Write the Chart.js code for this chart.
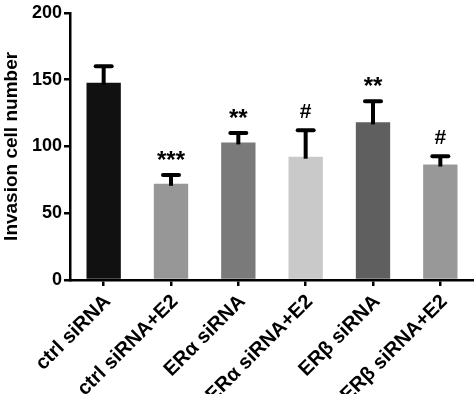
<!DOCTYPE html>
<html>
<head>
<meta charset="utf-8">
<script src="https://cdn.jsdelivr.net/npm/chart.js@4/dist/chart.umd.min.js"></script>
<style>
  html,body{margin:0;padding:0;background:#fff;}
  #wrap{width:474px;height:394px;}
</style>
</head>
<body>
<div id="wrap"><canvas id="myChart" width="474" height="394"></canvas></div>
<script>
// data
const categories=["ctrl siRNA","ctrl siRNA+E2","ERα siRNA","ERα siRNA+E2","ERβ siRNA","ERβ siRNA+E2"];
const means=[147.6,72,103,92.3,118,86.4];
const errors=[12.4,6.5,7,19.7,15.8,6.2];
const marks=["","***","**","#","**","#"];
const yTicks=[0,50,100,150,200];

const barColors=["#111111","#979797","#7a7a7a","#c9c9c9","#5f5f5f","#989898"];
const FONT="'Liberation Sans', Arial, sans-serif";

// error bars + significance marks, placed through the chart's own scales
const errorBarPlugin={
    id:"errorBars",
    afterDatasetsDraw(chart){
        const ctx=chart.ctx;
        const xs=chart.scales.x, ys=chart.scales.y;
        ctx.save();
        ctx.strokeStyle="#000";
        ctx.lineWidth=4;
        for(let i=0;i<means.length;i++){
            const x=xs.getPixelForValue(i);
            const y0=ys.getPixelForValue(means[i]);
            const y1=ys.getPixelForValue(means[i]+errors[i]);
            ctx.lineCap="butt";
            ctx.beginPath();
            ctx.moveTo(x,y0+2);
            ctx.lineTo(x,y1);
            ctx.stroke();
            ctx.lineCap="round";
            ctx.beginPath();
            ctx.moveTo(x-8,y1);
            ctx.lineTo(x+8,y1);
            ctx.stroke();
            if(marks[i]){
                const star=marks[i][0]==="*";
                ctx.fillStyle="#000";
                ctx.font="bold "+(star?24:21)+"px "+FONT;
                ctx.textAlign="center";
                ctx.textBaseline="alphabetic";
                ctx.fillText(marks[i],x,star?y1-7:y1-12);
            }
        }
        ctx.restore();
    }
};

var ctx=document.getElementById("myChart").getContext("2d");
var myChart=new Chart(ctx,{
    type:"bar",
    data:{
        labels:categories,
        datasets:[{
            data:means,
            backgroundColor:barColors,
            borderWidth:0,
            categoryPercentage:1,
            barPercentage:0.51,
        }],
    },
    options:{
        responsive:false,
        animation:false,
        devicePixelRatio:1,
        layout:{padding:{top:10,right:0,left:0,bottom:0}},
        plugins:{legend:{display:false},tooltip:{enabled:false}},
        scales:{
            x:{
                grid:{offset:false,drawOnChartArea:false,drawTicks:true,tickLength:6,lineWidth:2.5,color:"#000"},
                border:{color:"#000",width:2.5},
                ticks:{
                    color:"#000",
                    font:{family:FONT,size:20,weight:"bold"},
                    minRotation:45,maxRotation:45,autoSkip:false,padding:4,labelOffset:4,
                },
                afterFit(scale){scale.height=114;},
            },
            y:{
                min:0,max:200,
                grid:{drawOnChartArea:false,drawTicks:true,tickLength:6,lineWidth:2.5,color:"#000"},
                border:{color:"#000",width:2.5},
                afterBuildTicks(scale){scale.ticks=yTicks.map(v=>({value:v}));},
                ticks:{color:"#000",font:{family:FONT,size:18,weight:"bold"},padding:2},
                title:{display:true,text:"Invasion cell number",color:"#000",
                    font:{family:FONT,size:19,weight:"bold"},padding:{top:0,bottom:4}},
                afterFit(scale){scale.width=70;},
            },
        },
    },
    plugins:[errorBarPlugin],
});
</script>
</body>
</html>
